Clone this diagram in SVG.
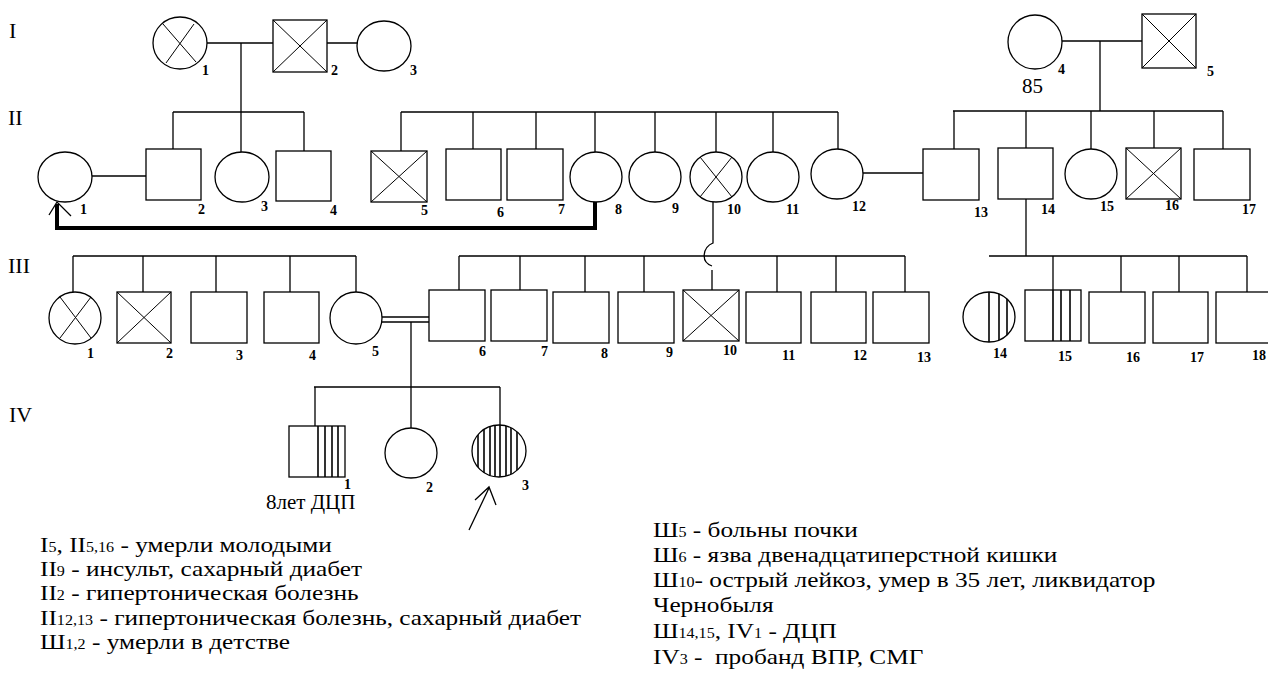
<svg xmlns="http://www.w3.org/2000/svg" width="1268" height="680" viewBox="0 0 1268 680">
<style>
.s{fill:#fff;stroke:#000;stroke-width:1.3}
.l{fill:none;stroke:#000;stroke-width:1.3}
.x{fill:none;stroke:#000;stroke-width:1}
.st{fill:none;stroke:#000;stroke-width:1.6}
.thick{fill:none;stroke:#000;stroke-width:4}
.n{font-family:"Liberation Serif","DejaVu Serif",serif;font-size:14px;font-weight:bold}
.g{font-family:"Liberation Serif","DejaVu Serif",serif;font-size:22px}
.t{font-family:"Liberation Serif","DejaVu Serif",serif;font-size:21px}
.lg{font-family:"Liberation Serif","DejaVu Serif",serif;font-size:22px}
.sub{font-size:14px}
</style>
<defs>
<clipPath id="c14"><ellipse cx="989" cy="317" rx="26" ry="25"/></clipPath>
<clipPath id="civ3"><ellipse cx="499" cy="451" rx="27" ry="26"/></clipPath>
</defs>
<rect width="1268" height="680" fill="#fff"/>

<g id="gen-labels">
<text class="g" x="9" y="38">I</text>
<text class="g" x="8" y="125">II</text>
<text class="g" x="8" y="273">III</text>
<text class="g" x="9" y="422">IV</text>
</g>

<g id="connectors">
<path class="l" d="M207,43 H273 M327,43 H358 M241,43 V112"/>
<path class="l" d="M173,112 H304 M173,112 V149 M241,112 V152 M304,112 V151"/>
<path class="l" d="M1062,41 H1142 M1100,41 V111"/>
<path class="l" d="M953,111 H1223 M954,111 V149 M1026,111 V148 M1091,111 V149 M1154,111 V148 M1223,111 V149"/>
<path class="l" d="M92,176 H146"/>
<path class="l" d="M401,112 H838 M401,112 V151 M473,112 V149 M536,112 V149 M595,112 V152 M655,112 V152 M716,112 V152 M773,112 V152 M838,112 V149"/>
<path class="l" d="M863,173 H923"/>
<path class="thick" d="M595,202 V228 H57 V204"/>
<path class="l" d="M49,215 L57,202 L71,216"/>
<path class="l" d="M713,202 V243 C703,247 700,262 712,266 M712,270 V290"/>
<path class="l" d="M1026,199 V256"/>
<path class="l" d="M73,256 H356 M73,256 V293 M143,256 V292 M216,256 V292 M290,256 V292 M356,256 V293"/>
<path class="l" d="M382,317 H430 M382,322 H430 M411,322 V387"/>
<path class="l" d="M459,256 H905 M459,256 V290 M520,256 V290 M585,256 V292 M644,256 V292 M777,256 V292 M836,256 V292 M905,256 V292"/>
<path class="l" d="M989,256 H1247 M1053,256 V290 M1121,256 V292 M1179,256 V292 M1247,256 V292"/>
<path class="l" d="M314,387 H500 M315,387 V426 M411,387 V428 M500,387 V425"/>
<path class="l" d="M469,530 L489,488 M475,500 L489,487 L496,505"/>
</g>

<!-- Generation I -->
<g id="I1"><ellipse class="s" cx="180" cy="43" rx="27" ry="26"/><path class="x" d="M163,24 L196,62 M194,24 L166,63"/><text class="n" x="202" y="75">1</text></g>
<g id="I2"><rect class="s" x="273" y="20" width="54" height="52"/><path class="x" d="M273,20 L327,72 M327,20 L273,72"/><text class="n" x="331" y="75">2</text></g>
<g id="I3"><ellipse class="s" cx="384" cy="46" rx="27" ry="25"/><text class="n" x="410" y="75">3</text></g>
<g id="I4"><ellipse class="s" cx="1035" cy="42" rx="27" ry="27"/><text class="n" x="1058" y="74">4</text><text class="t" x="1022" y="93">85</text></g>
<g id="I5"><rect class="s" x="1142" y="14" width="54" height="54"/><path class="x" d="M1142,14 L1196,68 M1196,14 L1142,68"/><text class="n" x="1207" y="76">5</text></g>

<!-- Generation II -->
<g id="II1"><ellipse class="s" cx="65" cy="177" rx="27" ry="25"/><text class="n" x="80" y="214">1</text></g>
<g id="II2"><rect class="s" x="146" y="149" width="55" height="51"/><text class="n" x="198" y="214">2</text></g>
<g id="II3"><ellipse class="s" cx="242" cy="177" rx="27" ry="25"/><text class="n" x="261" y="211">3</text></g>
<g id="II4"><rect class="s" x="276" y="151" width="55" height="50"/><text class="n" x="330" y="215">4</text></g>
<g id="II5"><rect class="s" x="371" y="151" width="56" height="51"/><path class="x" d="M371,151 L427,202 M427,151 L371,202"/><text class="n" x="421" y="215">5</text></g>
<g id="II6"><rect class="s" x="446" y="149" width="55" height="51"/><text class="n" x="497" y="217">6</text></g>
<g id="II7"><rect class="s" x="507" y="149" width="56" height="51"/><text class="n" x="558" y="214">7</text></g>
<g id="II8"><ellipse class="s" cx="596" cy="177" rx="26" ry="25"/><text class="n" x="615" y="214">8</text></g>
<g id="II9"><ellipse class="s" cx="655" cy="177" rx="26" ry="25"/><text class="n" x="672" y="213">9</text></g>
<g id="II10"><ellipse class="s" cx="716" cy="177" rx="26" ry="25"/><path class="x" d="M700,157 L732,197 M732,157 L700,197"/><text class="n" x="727" y="214">10</text></g>
<g id="II11"><ellipse class="s" cx="773" cy="177" rx="26" ry="25"/><text class="n" x="786" y="214">11</text></g>
<g id="II12"><ellipse class="s" cx="837" cy="174" rx="26" ry="25"/><text class="n" x="852" y="211">12</text></g>
<g id="II13"><rect class="s" x="923" y="149" width="56" height="51"/><text class="n" x="974" y="217">13</text></g>
<g id="II14"><rect class="s" x="998" y="148" width="55" height="51"/><text class="n" x="1041" y="214">14</text></g>
<g id="II15"><ellipse class="s" cx="1091" cy="174" rx="26" ry="25"/><text class="n" x="1100" y="211">15</text></g>
<g id="II16"><rect class="s" x="1126" y="148" width="55" height="51"/><path class="x" d="M1126,148 L1181,199 M1181,148 L1126,199"/><text class="n" x="1165" y="210">16</text></g>
<g id="II17"><rect class="s" x="1194" y="149" width="56" height="51"/><text class="n" x="1242" y="214">17</text></g>

<!-- Generation III -->
<g id="III1"><ellipse class="s" cx="75" cy="318" rx="26" ry="26"/><path class="x" d="M60,297 L91,338 M91,297 L60,338"/><text class="n" x="87" y="358">1</text></g>
<g id="III2"><rect class="s" x="117" y="292" width="54" height="51"/><path class="x" d="M117,292 L171,343 M171,292 L117,343"/><text class="n" x="166" y="358">2</text></g>
<g id="III3"><rect class="s" x="191" y="292" width="56" height="51"/><text class="n" x="236" y="360">3</text></g>
<g id="III4"><rect class="s" x="264" y="292" width="55" height="51"/><text class="n" x="309" y="360">4</text></g>
<g id="III5"><ellipse class="s" cx="356" cy="318" rx="26" ry="26"/><text class="n" x="372" y="356">5</text></g>
<g id="III6"><rect class="s" x="429" y="290" width="56" height="51"/><text class="n" x="479" y="356">6</text></g>
<g id="III7"><rect class="s" x="491" y="290" width="56" height="51"/><text class="n" x="541" y="356">7</text></g>
<g id="III8"><rect class="s" x="553" y="292" width="56" height="51"/><text class="n" x="601" y="358">8</text></g>
<g id="III9"><rect class="s" x="618" y="292" width="56" height="51"/><text class="n" x="666" y="357">9</text></g>
<g id="III10"><rect class="s" x="683" y="290" width="56" height="51"/><path class="x" d="M683,290 L739,341 M739,290 L683,341"/><text class="n" x="723" y="355">10</text></g>
<g id="III11"><rect class="s" x="746" y="292" width="55" height="51"/><text class="n" x="782" y="360">11</text></g>
<g id="III12"><rect class="s" x="811" y="292" width="55" height="51"/><text class="n" x="853" y="360">12</text></g>
<g id="III13"><rect class="s" x="873" y="292" width="56" height="51"/><text class="n" x="917" y="362">13</text></g>
<g id="III14"><ellipse class="s" cx="989" cy="317" rx="26" ry="25"/><path class="st" clip-path="url(#c14)" d="M989,290 V345 M999,290 V345 M1007,290 V345"/><text class="n" x="993" y="358">14</text></g>
<g id="III15"><rect class="s" x="1025" y="290" width="56" height="51"/><path class="st" d="M1053,290 V341 M1061,290 V341 M1070,290 V341"/><text class="n" x="1058" y="361">15</text></g>
<g id="III16"><rect class="s" x="1089" y="292" width="56" height="51"/><text class="n" x="1126" y="362">16</text></g>
<g id="III17"><rect class="s" x="1153" y="292" width="55" height="51"/><text class="n" x="1190" y="362">17</text></g>
<g id="III18"><rect class="s" x="1216" y="292" width="60" height="51"/><text class="n" x="1252" y="360">18</text></g>

<!-- Generation IV -->
<g id="IV1"><rect class="s" x="289" y="426" width="56" height="51"/><path class="st" d="M318,426 V477 M325,426 V477 M332,426 V477 M338,426 V477"/><text class="n" x="344" y="489">1</text><text class="t" x="266" y="509">8лет ДЦП</text></g>
<g id="IV2"><ellipse class="s" cx="411" cy="453" rx="26" ry="25"/><text class="n" x="426" y="492">2</text></g>
<g id="IV3"><ellipse class="s" cx="499" cy="451" rx="27" ry="26"/><path class="st" clip-path="url(#civ3)" d="M478,420 V480 M484,420 V480 M490,420 V480 M495,420 V480 M500,420 V480 M506,420 V480 M511,420 V480 M517,420 V480"/><text class="n" x="522" y="490">3</text></g>

<g id="legend" transform="scale(1.15,1)">
<text class="lg" x="34.8" y="552">I<tspan class="sub">5</tspan>, II<tspan class="sub">5,16</tspan> - умерли молодыми</text>
<text class="lg" x="34.8" y="576">II<tspan class="sub">9</tspan> - инсульт, сахарный диабет</text>
<text class="lg" x="34.8" y="600">II<tspan class="sub">2</tspan> - гипертоническая болезнь</text>
<text class="lg" x="34.8" y="625">II<tspan class="sub">12,13</tspan> - гипертоническая болезнь, сахарный диабет</text>
<text class="lg" x="34.8" y="649">Ш<tspan class="sub">1,2</tspan> - умерли в детстве</text>
<text class="lg" x="567.8" y="537">Ш<tspan class="sub">5</tspan> - больны почки</text>
<text class="lg" x="567.8" y="562">Ш<tspan class="sub">6</tspan> - язва двенадцатиперстной кишки</text>
<text class="lg" x="567.8" y="587">Ш<tspan class="sub">10</tspan>- острый лейкоз, умер в 35 лет, ликвидатор</text>
<text class="lg" x="567.8" y="612">Чернобыля</text>
<text class="lg" x="567.8" y="638">Ш<tspan class="sub">14,15</tspan>, IV<tspan class="sub">1</tspan> - ДЦП</text>
<text class="lg" x="567.8" y="664" style="white-space:pre">IV<tspan class="sub">3</tspan> -  пробанд ВПР, СМГ</text>
</g>
</svg>
